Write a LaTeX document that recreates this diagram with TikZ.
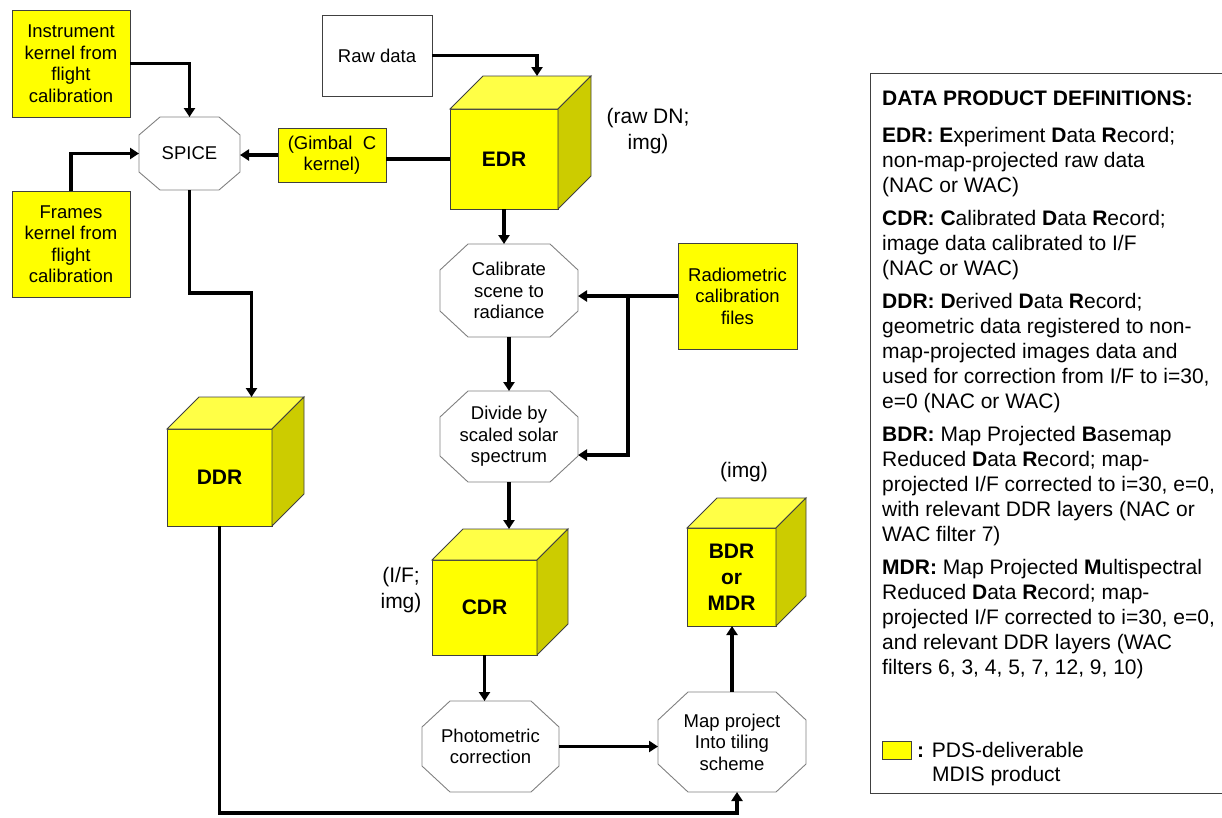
\documentclass[tikz,border=0pt]{standalone}
\usepackage{fontspec}
\setmainfont{Liberation Sans}
\usetikzlibrary{arrows.meta,calc}
\definecolor{cubeyel}{RGB}{255,255,0}
\definecolor{cubetopc}{RGB}{255,255,70}
\definecolor{cubesidec}{RGB}{204,204,0}
\tikzset{
 arr/.style={line width=3.2pt, -{Triangle[length=9pt,width=11pt]}},
 conn/.style={line width=3.2pt},
 ybox/.style={draw=black!75, line width=0.9pt, fill=cubeyel, inner sep=0pt, align=center, font=\fontsize{18.5}{21.5}\selectfont},
 wbox/.style={draw=black!75, line width=0.9pt, fill=white, inner sep=0pt, align=center, font=\fontsize{18.5}{21.5}\selectfont},
 octtext/.style={inner sep=0pt, outer sep=0pt, align=center, font=\fontsize{18.5}{21.5}\selectfont},
 octline/.style={draw=black!50, line width=0.9pt},
 cubefront/.style={draw=black!75, line width=0.9pt, fill=cubeyel, inner sep=0pt, outer sep=0pt, align=center, font=\fontsize{21}{26}\selectfont\bfseries},
 cubetop/.style={draw=black!75, line width=0.9pt, fill=cubetopc},
 cubeside/.style={draw=black!75, line width=0.9pt, fill=cubesidec},
 note/.style={align=center, inner sep=0pt, font=\fontsize{21}{26}\selectfont},
 legtext/.style={inner sep=0pt, anchor=base west, font=\fontsize{21}{25}\selectfont},
}
\newcommand\octnode[7]{%
 \node[octtext, minimum width=#3pt, minimum height=#4pt] (#1) at (#2) {#7};
 \draw[octline] ($(#1.north west)+(#5,0)$) -- ($(#1.north east)+(-#5,0)$) -- ($(#1.north east)+(0,#6)$) -- ($(#1.south east)+(0,-#6)$) -- ($(#1.south east)+(-#5,0)$) -- ($(#1.south west)+(#5,0)$) -- ($(#1.south west)+(0,-#6)$) -- ($(#1.north west)+(0,#6)$) -- cycle;}
\newcommand\cubenode[6]{%
 \node[cubefront, minimum width=#3pt, minimum height=#4pt] (#1) at (#2) {#6};
 \draw[cubetop] (#1.north west) -- ++(#5,-#5) -- ($(#1.north east)+(#5,-#5)$) -- (#1.north east) -- cycle;
 \draw[cubeside] (#1.north east) -- ++(#5,-#5) -- ($(#1.south east)+(#5,-#5)$) -- (#1.south east) -- cycle;
 \coordinate (#1-top) at ($(#1.north)+(#5,-#5)$);}
\newcommand\legline[3]{\node[legtext] (#1) at (882,#2) {#3};}
\begin{document}
\begin{tikzpicture}[x=1pt,y=-1pt]
\useasboundingbox (0,0) rectangle (1222,817);
% boxes
\node[ybox, minimum width=118pt, minimum height=107pt] (inst) at (71,63.5) {Instrument\\kernel from\\flight\\calibration};
\node[ybox, minimum width=118pt, minimum height=106pt] (frames) at (71,244) {Frames\\kernel from\\flight\\calibration};
\node[ybox, minimum width=108pt, minimum height=54pt] (gimbal) at (332,155) {(Gimbal\ \ C\\kernel)};
\node[wbox, minimum width=110pt, minimum height=81pt] (raw) at (377,55.5) {Raw data};
\node[ybox, minimum width=119pt, minimum height=106pt] (radio) at (737.5,296) {Radiometric\\calibration\\files};
% octagons
\octnode{spice}{189.5,153.5}{101}{73}{21}{18}{SPICE}
\octnode{cal}{509,290.5}{138}{93}{28}{26}{Calibrate\\scene to\\radiance}
\octnode{div}{509,436.5}{138}{91}{28}{26}{Divide by\\scaled solar\\spectrum}
\octnode{photo}{490.5,746.5}{137}{91}{28}{26}{Photometric\\correction}
\octnode{map}{732,742}{148}{100}{30}{28}{Map project\\Into tiling\\scheme}
% cubes
\cubenode{edr}{504,159}{108}{100}{33}{EDR}
\cubenode{cdr}{484.5,607.5}{105}{95}{31}{CDR}
\cubenode{bdr}{731.5,577}{89}{98}{30}{BDR\\or\\MDR}
\cubenode{ddr}{219.5,477.5}{105}{97}{32}{DDR}
% notes
\node[note] (rawdn) at (648,131) {(raw DN;\\img)};
\node[note] (ifimg) at (401,590) {(I/F;\\img)};
\node[note] (img) at (744,472) {(img)};
% connectors
\coordinate (sdbend) at (220,293);
\coordinate (rb) at (628,296);
\coordinate (botbend) at (400,813);
\draw[arr] (inst.east) -| (spice.north);
\draw[arr] (frames.north) |- (spice.west);
\draw[arr] (gimbal.west) -- (gimbal.west -| spice.east);
\draw[conn] (edr.west) -- (edr.west -| gimbal.east);
\draw[arr] (raw.east) -| (edr-top);
\draw[arr] (spice.south) |- (sdbend) -| (ddr-top);
\draw[arr] (edr.south) -- (edr.south |- cal.north);
\draw[arr] (radio.west) -- (radio.west -| cal.east);
\draw[arr] (rb) |- ([yshift=-18.5pt]div.east);
\draw[arr] (cal.south) -- (div.north);
\draw[arr] (div.south) -- (div.south |- cdr-top);
\draw[arr] (cdr.south) -- (cdr.south |- photo.north);
\draw[arr] (photo.east) -- (photo.east -| map.west);
\draw[arr] (map.north) -- (map.north |- bdr.south);
\draw[arr] (ddr.south) |- (botbend) -| ([xshift=5pt]map.south);
% legend
\draw[draw=black!75, line width=1pt] (1222,73) -- (870,73) -- (870,793) -- (1222,793);
\legline{lh}{105.5}{\bfseries DATA PRODUCT DEFINITIONS:}
\legline{le1}{142.5}{\textbf{EDR: E}xperiment \textbf{D}ata \textbf{R}ecord;}
\legline{le2}{167.5}{non-map-projected raw data}
\legline{le3}{192.5}{(NAC or WAC)}
\legline{lc1}{225.5}{\textbf{CDR: C}alibrated \textbf{D}ata \textbf{R}ecord;}
\legline{lc2}{250.5}{image data calibrated to I/F}
\legline{lc3}{275.5}{(NAC or WAC)}
\legline{ld1}{308.5}{\textbf{DDR: D}erived \textbf{D}ata \textbf{R}ecord;}
\legline{ld2}{333.5}{geometric data registered to non-}
\legline{ld3}{358.5}{map-projected images data and}
\legline{ld4}{383.5}{used for correction from I/F to i=30,}
\legline{ld5}{408.5}{e=0 (NAC or WAC)}
\legline{lb1}{441.5}{\textbf{BDR:} Map Projected \textbf{B}asemap}
\legline{lb2}{466.5}{Reduced \textbf{D}ata \textbf{R}ecord; map-}
\legline{lb3}{491.5}{projected I/F corrected to i=30, e=0,}
\legline{lb4}{516.5}{with relevant DDR layers (NAC or}
\legline{lb5}{541.5}{WAC filter 7)}
\legline{lm1}{574.5}{\textbf{MDR:} Map Projected \textbf{M}ultispectral}
\legline{lm2}{599.5}{Reduced \textbf{D}ata \textbf{R}ecord; map-}
\legline{lm3}{624.5}{projected I/F corrected to i=30, e=0,}
\legline{lm4}{649.5}{and relevant DDR layers (WAC}
\legline{lm5}{674.5}{filters 6, 3, 4, 5, 7, 12, 9, 10)}
\node[draw=black!75, line width=0.9pt, fill=cubeyel, minimum width=29pt, minimum height=18pt, inner sep=0pt] (legsq) at (896.5,750) {};
\node[legtext] (legt1) at (917,757.5) {\textbf{:} PDS-deliverable};
\node[legtext] (legt2) at (932,781) {MDIS product};
\end{tikzpicture}
\end{document}
